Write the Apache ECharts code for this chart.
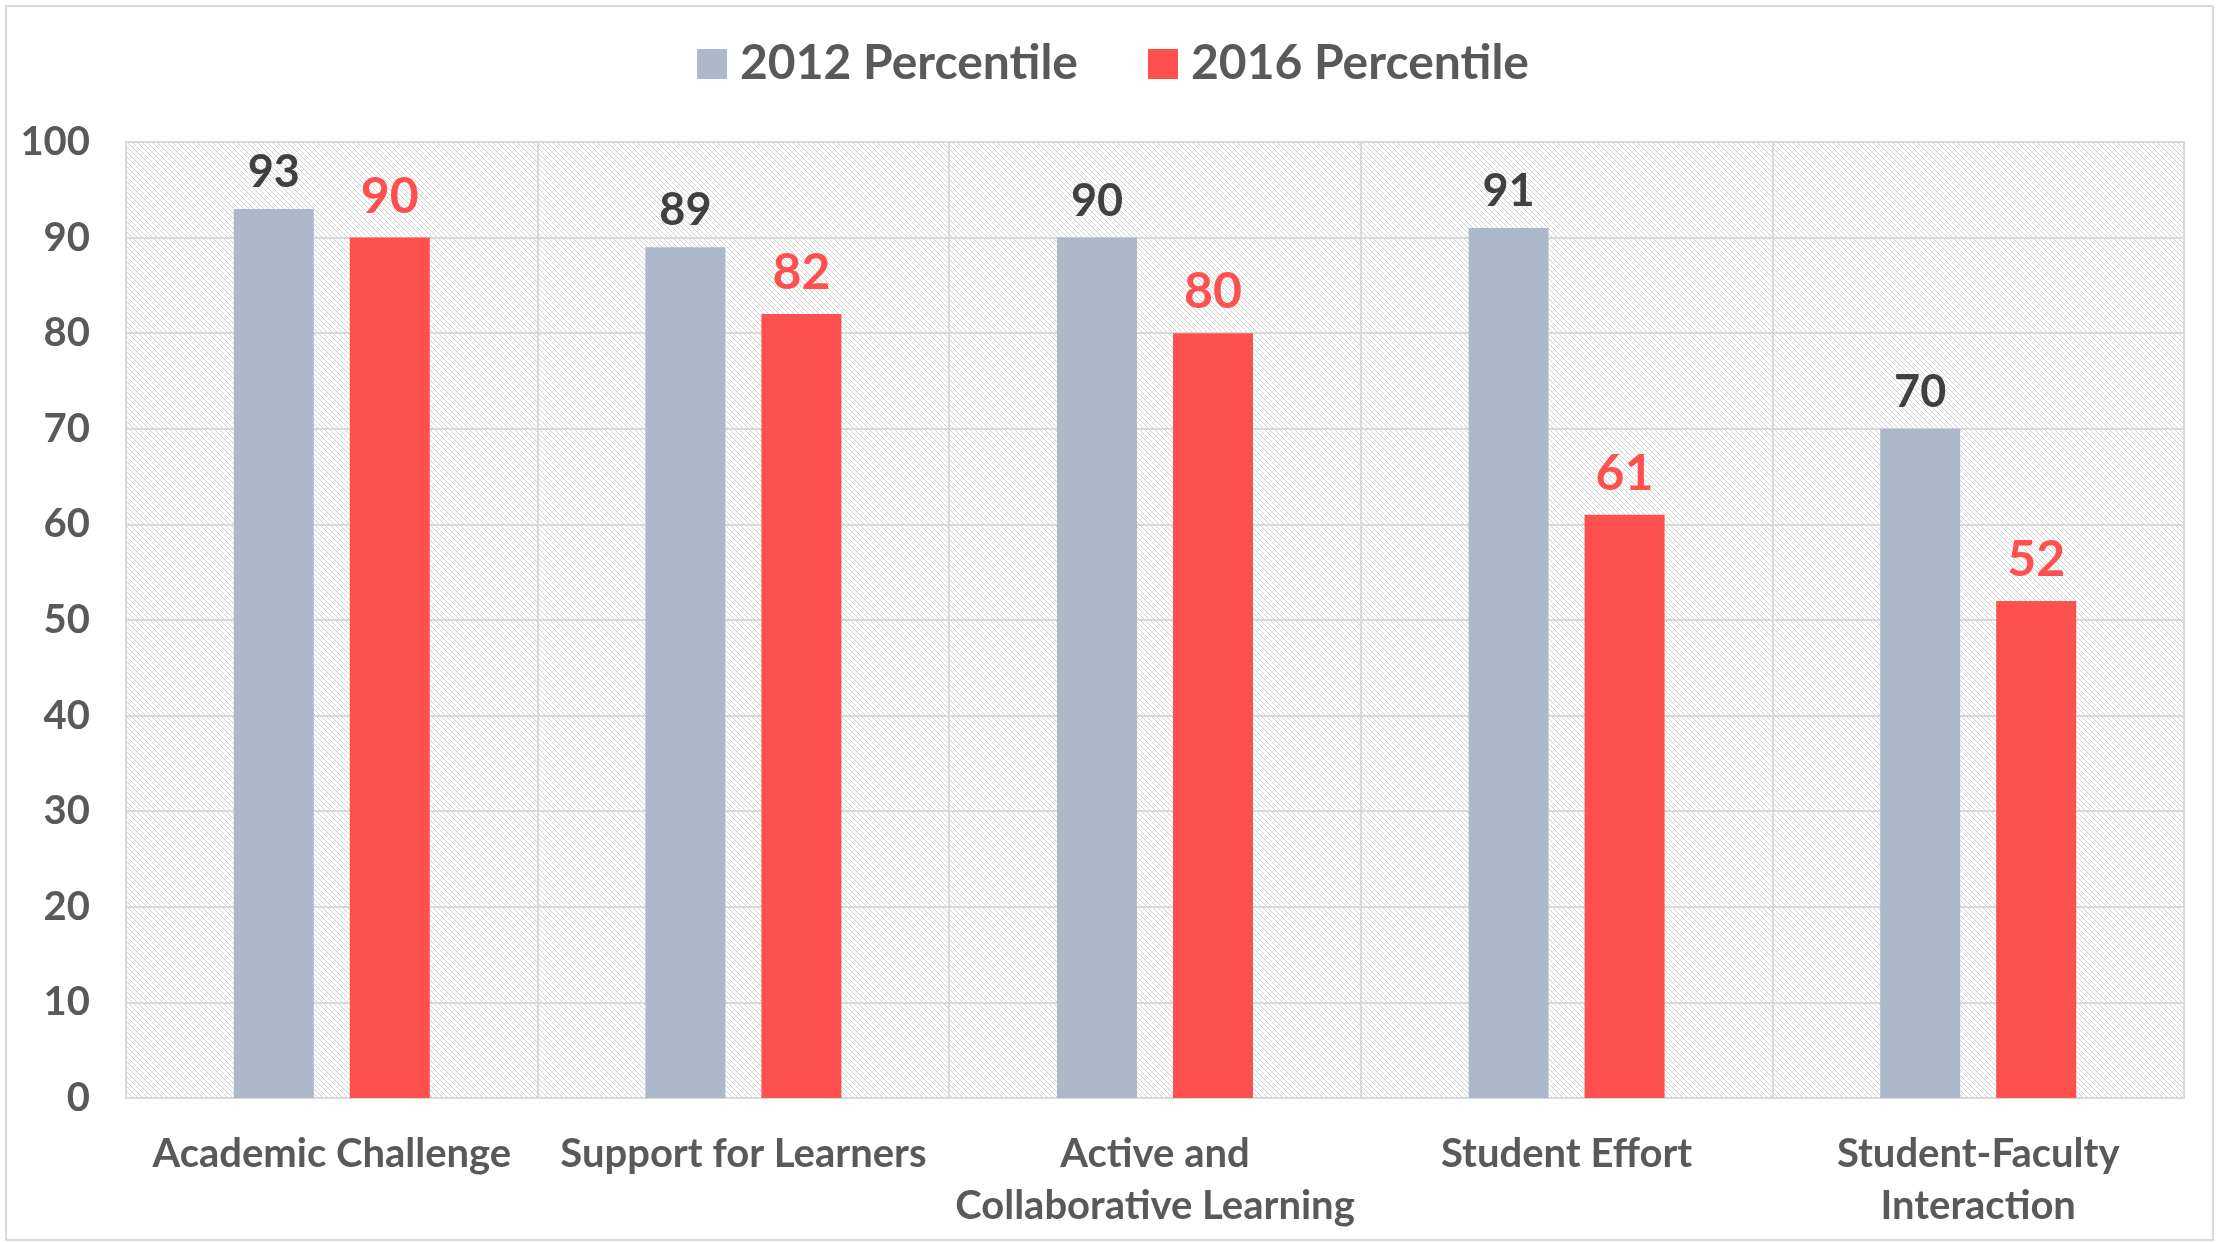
<!DOCTYPE html>
<html>
<head>
<meta charset="utf-8">
<script src="https://cdn.jsdelivr.net/npm/echarts@6/dist/echarts.min.js"></script>
<style>
  html, body { margin: 0; padding: 0; background: #fff; }
  #chart { width: 2226px; height: 1242px; }
</style>
</head>
<body>
<div id="chart"></div>
<script>
var categories = ['Academic Challenge', 'Support for Learners', 'Active and\nCollaborative Learning', 'Student Effort', 'Student-Faculty\nInteraction'];
var values2012 = [93, 89, 90, 91, 70];
var values2016 = [90, 82, 80, 61, 52];
var seriesNames = ['2012 Percentile', '2016 Percentile'];

// diagonal hatch for the plot area
var hatch = document.createElement('canvas');
hatch.width = 5;
hatch.height = 5;
var ctx = hatch.getContext('2d');
ctx.fillStyle = '#ffffff';
ctx.fillRect(0, 0, 5, 5);
ctx.fillStyle = '#d2d2d2';
for (var i = 0; i < 5; i++) {
    ctx.fillRect(i, i, 1, 1);
}

var fontFamily = 'Lato, "Open Sans", sans-serif';

var chart = echarts.init(document.getElementById('chart'));

var option = {
    animation: false,
    textStyle: { fontFamily: fontFamily },
    graphic: [{
        type: 'rect',
        shape: { x: 6, y: 6, width: 2207, height: 1234 },
        style: { fill: 'none', stroke: '#d9d9d9', lineWidth: 2 },
        z: -10
    }],
    legend: {
        top: 35,
        left: 'center',
        itemWidth: 30,
        itemHeight: 30,
        itemGap: 70,
        icon: 'rect',
        textStyle: {
            color: '#595959',
            fontSize: 48,
            fontWeight: 'bold',
            fontFamily: fontFamily,
            padding: [0, 0, 0, 8]
        },
        data: seriesNames
    },
    grid: {
        left: 126,
        right: 42,
        top: 142,
        bottom: 144,
        show: true,
        borderColor: '#d9d9d9',
        borderWidth: 2,
        backgroundColor: { image: hatch, repeat: 'repeat' }
    },
    xAxis: {
        type: 'category',
        data: categories,
        axisTick: { show: false },
        axisLine: { lineStyle: { color: '#d9d9d9', width: 2 } },
        splitLine: { show: true, lineStyle: { color: '#d9d9d9', width: 2 } },
        axisLabel: {
            color: '#595959',
            fontSize: 40,
            fontWeight: 'bold',
            lineHeight: 52,
            margin: 30,
            interval: 0
        }
    },
    yAxis: {
        type: 'value',
        min: 0,
        max: 100,
        interval: 10,
        axisLine: { show: false },
        axisTick: { show: false },
        splitLine: { lineStyle: { color: '#d9d9d9', width: 2 } },
        axisLabel: {
            color: '#595959',
            fontSize: 40,
            fontWeight: 'bold',
            margin: 36
        }
    },
    series: [{
        name: seriesNames[0],
        type: 'bar',
        data: values2012,
        barWidth: 80,
        barGap: '45%',
        itemStyle: { color: '#adb9ca' },
        label: {
            show: true,
            position: 'top',
            distance: 14,
            color: '#404040',
            fontSize: 45,
            fontWeight: 'bold'
        }
    }, {
        name: seriesNames[1],
        type: 'bar',
        data: values2016,
        barWidth: 80,
        itemStyle: { color: '#ff5050' },
        label: {
            show: true,
            position: 'top',
            distance: 16,
            color: '#ff5050',
            fontSize: 50,
            fontWeight: 'bold'
        }
    }]
};

chart.setOption(option);
</script>
</body>
</html>
